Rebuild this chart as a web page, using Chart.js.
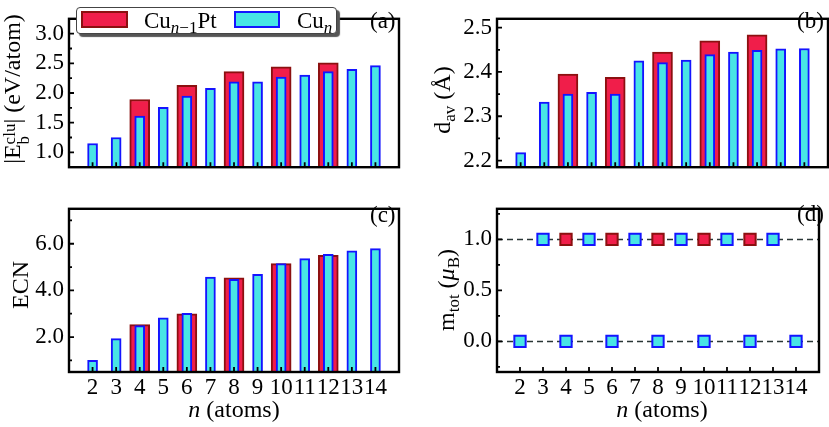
<!DOCTYPE html>
<html>
<head>
<meta charset="utf-8">
<script src="https://cdn.jsdelivr.net/npm/chart.js@4.4.1/dist/chart.umd.min.js"></script>
<style>
  body { margin: 0; background: #fff; width: 829px; height: 427px; overflow: hidden; position: relative;
         font-family: 'Liberation Serif', 'DejaVu Serif', serif; color: #000; }
  canvas { position: absolute; }
  .txt { position: absolute; font-size: 23px; white-space: nowrap; line-height: 1; }
  .ttl { font-size: 24px; }
  .rot { transform: translate(-50%, -50%) rotate(-90deg); }
  .ctr { transform: translate(-50%, -50%); }
  sub { font-size: 17px; vertical-align: -5px; line-height: 0; }
  .stack { display: inline-block; vertical-align: -9px; font-size: 17px; line-height: 14px; text-align: left; }
  .stack span { display: block; }
  #legend { position: absolute; left: 76px; top: 7px; width: 261px; height: 27px; box-sizing: border-box;
            border: 1px solid #444; border-radius: 4px; background: #fff; box-shadow: 3px 3px 1px #555; }
  .sw { position: absolute; top: 11px; width: 47px; height: 17px; box-sizing: border-box; border: 2px solid; }
</style>
</head>
<body>
<canvas id="ca" width="404" height="186" style="left:0;top:0"></canvas>
<canvas id="cb" width="419" height="186" style="left:410px;top:0"></canvas>
<canvas id="cc" width="404" height="237" style="left:0;top:190px"></canvas>
<canvas id="cd" width="419" height="237" style="left:410px;top:190px"></canvas>

<div id="legend"></div>
<div class="sw" style="left:81px;background:#f01e4a;border-color:#8c1010"></div>
<div class="txt" style="left:144px;top:9px">Cu<sub><i>n</i>−1</sub>Pt</div>
<div class="sw" style="left:234px;width:46px;background:#48e5e5;border-color:#1414ff"></div>
<div class="txt" style="left:297px;top:9px">Cu<sub><i>n</i></sub></div>

<div class="txt" style="left:370px;top:9px">(a)</div>
<div class="txt" style="left:797px;top:9px">(b)</div>
<div class="txt" style="left:370px;top:203px">(c)</div>
<div class="txt" style="left:797px;top:202px">(d)</div>

<div class="txt ttl rot" style="left:15px;top:89px">|E<span class="stack"><span>clu</span><span>b</span></span>| (eV/atom)</div>
<div class="txt ttl rot" style="left:442px;top:100px">d<sub>av</sub> (Å)</div>
<div class="txt ttl rot" style="left:20px;top:285px">ECN</div>
<div class="txt ttl rot" style="left:446px;top:290px">m<sub>tot</sub> (<i>μ</i><sub>B</sub>)</div>

<div class="txt ttl ctr" style="left:234px;top:409px"><i>n</i> (atoms)</div>
<div class="txt ttl ctr" style="left:662px;top:409px"><i>n</i> (atoms)</div>

<script>
// values
const nAtoms = [2, 3, 4, 5, 6, 7, 8, 9, 10, 11, 12, 13, 14];
const nAlloy = [4, 6, 8, 10, 12];

const ebCu   = [1.15, 1.25, 1.61, 1.76, 1.95, 2.08, 2.19, 2.19, 2.27, 2.30, 2.36, 2.40, 2.46];
const ebCuPt = [1.89, 2.13, 2.36, 2.44, 2.51];

const davCu   = [2.218, 2.332, 2.350, 2.354, 2.350, 2.425, 2.421, 2.427, 2.439, 2.445, 2.449, 2.452, 2.453];
const davCuPt = [2.395, 2.388, 2.445, 2.470, 2.484];

const ecnCu   = [1.00, 1.93, 2.49, 2.82, 3.02, 4.57, 4.48, 4.69, 5.15, 5.36, 5.55, 5.70, 5.79];
const ecnCuPt = [2.53, 3.00, 4.54, 5.15, 5.50];

const magCu   = [0, 1, 0, 1, 0, 1, 0, 1, 0, 1, 0, 1, 0];
const magCuPt = [1, 1, 1, 1, 1];
const magRefLines = [0, 1];

// tick labels
const ticksA = [1.0, 1.5, 2.0, 2.5, 3.0];
const minorA = [1.25, 1.75, 2.25, 2.75];
const ticksB = [2.2, 2.3, 2.4, 2.5];
const minorB = [2.25, 2.35, 2.45];
const ticksC = [2.0, 4.0, 6.0];
const minorC = [1.0, 3.0, 5.0, 7.0];
const ticksD = [0.0, 0.5, 1.0];
const minorD = [-0.25, 0.25, 0.75, 1.25];

const RED = '#f01e4a', RED_EDGE = '#8c1010';
const CYAN = '#48e5e5', BLUE_EDGE = '#1414ff';

Chart.defaults.font.family = "'Liberation Serif', serif";
Chart.defaults.font.size = 23;
Chart.defaults.color = '#000';

// frame + inward ticks, drawn over the data
const frameTicks = {
  id: 'frameTicks',
  afterDatasetsDraw(chart, args, opts) {
    const { ctx, chartArea: a, scales: { x, y } } = chart;
    ctx.save();
    ctx.strokeStyle = '#000';
    ctx.lineWidth = 1.8;
    ctx.beginPath();
    nAtoms.forEach(n => {
      const px = x.getPixelForValue(n);
      ctx.moveTo(px, a.bottom); ctx.lineTo(px, a.bottom - 5);
    });
    opts.major.forEach(v => {
      const py = y.getPixelForValue(v);
      ctx.moveTo(a.left, py); ctx.lineTo(a.left + 5, py);
    });
    opts.minor.forEach(v => {
      const py = y.getPixelForValue(v);
      ctx.moveTo(a.left, py); ctx.lineTo(a.left + 3, py);
    });
    ctx.stroke();
    ctx.lineWidth = 2.4;
    ctx.strokeRect(a.left, a.top, a.width, a.height);
    ctx.restore();
  }
};

function pts(xs, ys) { return xs.map((n, i) => ({ x: n, y: ys[i] })); }

function makeScales(o) {
  return {
    x: {
      type: 'linear', min: 1, max: 15, offset: false,
      grid: { display: false, drawTicks: false }, border: { display: false },
      afterBuildTicks: s => { s.ticks = nAtoms.map(v => ({ value: v })); },
      afterFit: s => { s.height = o.xh; },
      ticks: { display: o.xlabels, padding: 2, autoSkip: false, maxRotation: 0, callback: v => String(v) }
    },
    y: {
      min: o.ymin, max: o.ymax,
      grid: { display: false, drawTicks: false }, border: { display: false },
      afterBuildTicks: s => { s.ticks = o.major.map(v => ({ value: v })); },
      afterFit: s => { s.width = o.yw; },
      ticks: { padding: 5, callback: v => Number(v).toFixed(1) }
    }
  };
}

function barChart(id, cu, cupt, o) {
  new Chart(document.getElementById(id), {
    type: 'bar',
    data: {
      datasets: [
        { label: 'Cu_n', data: pts(nAtoms, cu), backgroundColor: CYAN, borderColor: BLUE_EDGE,
          borderWidth: 2, barThickness: 10, grouped: false, order: 1 },
        { label: 'Cu_{n-1}Pt', data: pts(nAlloy, cupt), backgroundColor: RED, borderColor: RED_EDGE,
          borderWidth: 2, barThickness: 20, grouped: false, order: 2 }
      ]
    },
    options: {
      responsive: false, animation: false, events: [], devicePixelRatio: 1,
      layout: { padding: o.pad },
      plugins: { legend: { display: false }, tooltip: { enabled: false },
                 frameTicks: { major: o.major, minor: o.minor } },
      scales: makeScales(o)
    },
    plugins: [frameTicks]
  });
}

barChart('ca', ebCu, ebCuPt, { ymin: 0.75, ymax: 3.25, major: ticksA, minor: minorA,
  yw: 69, xh: 6, xlabels: false, pad: { top: 4, right: 5, left: 0, bottom: 0 } });
barChart('cb', davCu, davCuPt, { ymin: 2.185, ymax: 2.52, major: ticksB, minor: minorB,
  yw: 87, xh: 6, xlabels: false, pad: { top: 4, right: 1, left: 0, bottom: 0 } });
barChart('cc', ecnCu, ecnCuPt, { ymin: 0.5, ymax: 7.5, major: ticksC, minor: minorC,
  yw: 69, xh: 55, xlabels: true, pad: { top: 6, right: 5, left: 0, bottom: 0 } });

// (d) magnetic moments
const oD = { ymin: -0.3, ymax: 1.3, major: ticksD, minor: minorD,
  yw: 87, xh: 55, xlabels: true, pad: { top: 6, right: 1, left: 0, bottom: 0 } };
new Chart(document.getElementById('cd'), {
  type: 'scatter',
  data: {
    datasets: [
      { data: pts(nAtoms, magCu), pointStyle: 'rect', pointRadius: 8, backgroundColor: CYAN,
        borderColor: BLUE_EDGE, borderWidth: 2, order: 1 },
      { data: pts(nAlloy, magCuPt), pointStyle: 'rect', pointRadius: 8, backgroundColor: RED,
        borderColor: RED_EDGE, borderWidth: 2, order: 2 },
      ...magRefLines.map(v => ({
        type: 'line', data: [{ x: 1, y: v }, { x: 15, y: v }], borderColor: '#2a3636',
        borderWidth: 1.5, borderDash: [6, 4], pointRadius: 0, order: 5
      }))
    ]
  },
  options: {
    responsive: false, animation: false, events: [], devicePixelRatio: 1,
    layout: { padding: oD.pad },
    plugins: { legend: { display: false }, tooltip: { enabled: false },
               frameTicks: { major: oD.major, minor: oD.minor } },
    scales: makeScales(oD)
  },
  plugins: [frameTicks]
});
</script>
</body>
</html>
